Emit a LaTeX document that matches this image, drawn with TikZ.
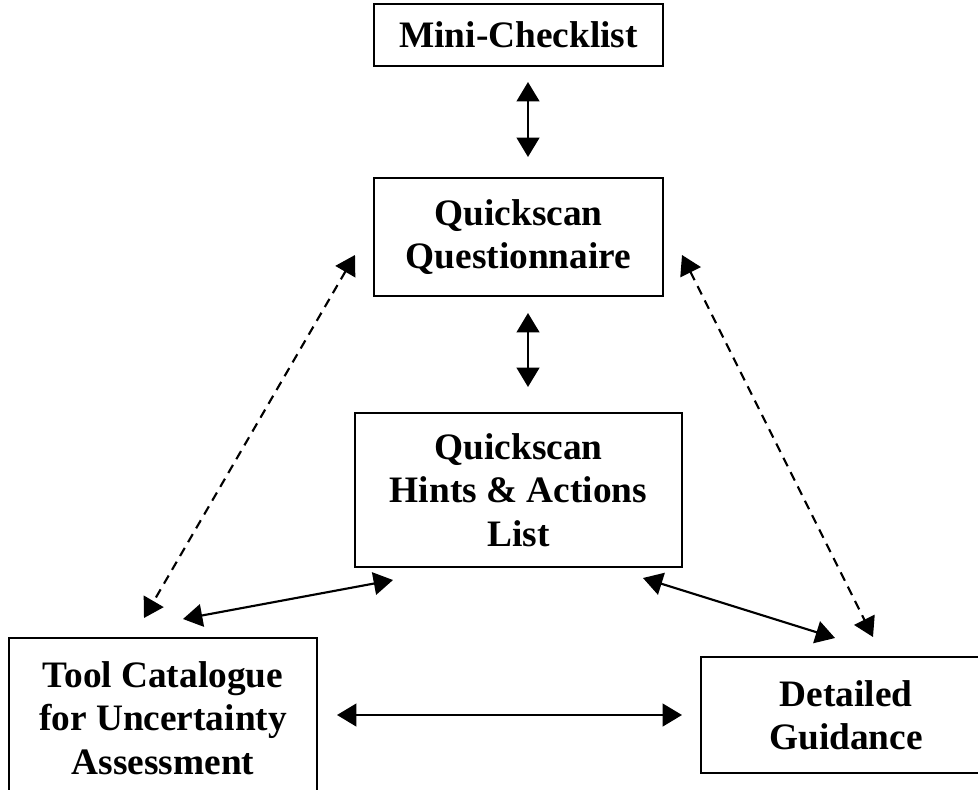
\documentclass[tikz,border=0pt]{standalone}
\usepackage{fontspec}
\setmainfont{Liberation Serif}
\usetikzlibrary{arrows.meta}
\begin{document}
\begin{tikzpicture}[x=0.75pt,y=-0.75pt,
  box/.style={draw,line width=1.3pt,align=center,inner sep=0pt,
    font=\fontsize{28pt}{32.5pt}\selectfont\bfseries},
  link/.style={line width=1.6pt,{Triangle[length=14.5pt,width=17pt]}-{Triangle[length=14.5pt,width=17pt]}},
  dlink/.style={link,dash pattern=on 7pt off 5pt}]
\useasboundingbox (0,0) rectangle (978,789);
\clip (0,0) rectangle (978,789);
\node[box,minimum width=216.75pt,minimum height=46.5pt] (mini) at (518.5,35) {Mini-Checklist};
\node[box,minimum width=216.75pt,minimum height=88.5pt] (qq) at (518.5,237) {Quickscan\\Questionnaire};
\node[box,minimum width=245.25pt,minimum height=115.5pt] (hints) at (518.5,490) {Quickscan\\Hints \& Actions\\List};
\node[box,minimum width=231pt,minimum height=120pt] (tool) at (163,718) {Tool Catalogue\\for Uncertainty\\Assessment};
\node[box,minimum width=217.5pt,minimum height=87pt] (det) at (846,715) {Detailed\\Guidance};
\coordinate (m1) at (528,82);
\coordinate (q1) at (528,157);
\coordinate (q2) at (528,313);
\coordinate (h1) at (528,387);
\coordinate (ql) at (355,255);
\coordinate (tl) at (144,618);
\coordinate (qr) at (682,255);
\coordinate (dr) at (873,637);
\coordinate (tt) at (183,619);
\coordinate (hl) at (393,580);
\coordinate (hr) at (643,578);
\coordinate (dt) at (835,638);
\coordinate (tr) at (337,715);
\coordinate (dl) at (682,715);
\draw[link] (m1) -- (q1);
\draw[link] (q2) -- (h1);
\draw[dlink] (ql) -- (tl);
\draw[dlink] (qr) -- (dr);
\draw[link] (tt) -- (hl);
\draw[link] (hr) -- (dt);
\draw[link] (tr) -- (dl);
\end{tikzpicture}
\end{document}
